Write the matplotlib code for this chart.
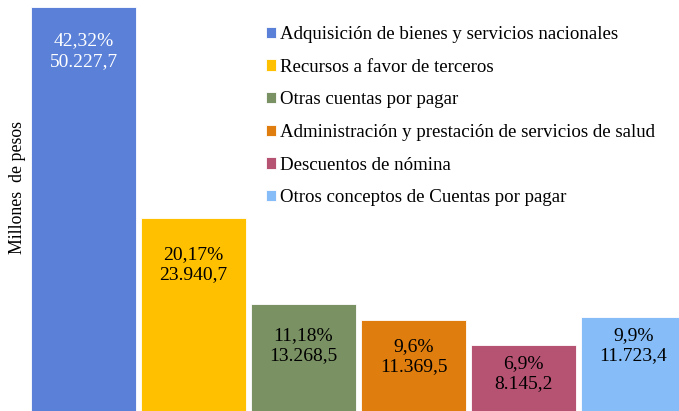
import matplotlib
matplotlib.use("Agg")
import matplotlib.pyplot as plt

# Data
categorias = ["Adquisición de bienes y servicios nacionales",
              "Recursos a favor de terceros",
              "Otras cuentas por pagar",
              "Administración y prestación de servicios de salud",
              "Descuentos de nómina",
              "Otros conceptos de Cuentas por pagar"]
valores = [50227.7, 23940.7, 13268.5, 11369.5, 8145.2, 11723.4]
porcentajes = ["42,32%", "20,17%", "11,18%", "9,6%", "6,9%", "9,9%"]
valores_txt = ["50.227,7", "23.940,7", "13.268,5", "11.369,5", "8.145,2", "11.723,4"]

colores = ["#5A80D8", "#FFC000", "#7A9163", "#DF7D0E", "#B65373", "#86BDF8"]
color_txt = ["white", "black", "black", "black", "black", "black"]
# distance (px) from bar top to label centre
offsets = [44, 46, 41, 37, 28, 29]

plt.rcParams['font.family'] = ['Liberation Serif', 'DejaVu Serif']

W, H, dpi = 679, 411, 100
fig = plt.figure(figsize=(W / dpi, H / dpi), dpi=dpi)
ax = fig.add_axes([0, 0, 1, 1])

x = list(range(len(valores)))
bars = ax.bar(x, valores, width=0.955, color=colores, edgecolor="white",
              linewidth=0.6)

# 110 px per category, first bar starts at 31 px
left = -0.4775 - 31 / 110
ax.set_xlim(left, left + W / 110)
ax.set_ylim(0, 50227.7 * H / 404)
ax.axis("off")

for i, b in enumerate(bars):
    ax.annotate(porcentajes[i] + "\n" + valores_txt[i],
                (b.get_x() + b.get_width() / 2, b.get_height()),
                xytext=(0, -offsets[i] * 72 / dpi), textcoords="offset points",
                ha="center", va="center", fontsize=14, color=color_txt[i],
                linespacing=1.25)

for b, lab in zip(bars, categorias):
    b.set_label(lab)

ax.legend(loc="upper left", bbox_to_anchor=(266 / W, 1 - 26 / H),
          bbox_transform=fig.transFigure, frameon=False, fontsize=13.6,
          handlelength=0.53, handleheight=0.53, handletextpad=0.2,
          labelspacing=0.83, borderpad=0, borderaxespad=0)

fig.text(18 / W, 1 - 187 / H, "Millones  de pesos", rotation=90,
         ha="center", va="center", fontsize=12.8)

plt.savefig("out.png", dpi=dpi)
